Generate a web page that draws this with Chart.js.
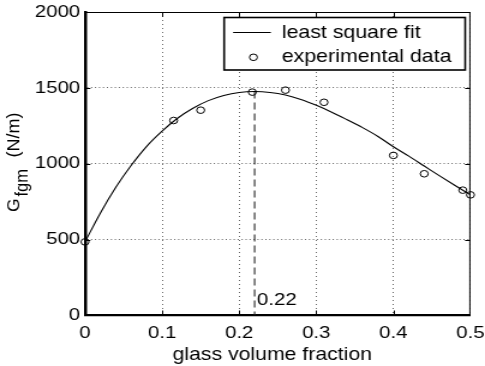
<!DOCTYPE html>
<html lang="en">
<head>
<meta charset="UTF-8">
<title>Fracture energy vs glass volume fraction</title>
<script src="https://cdn.jsdelivr.net/npm/chart.js"></script>
<style>
  html, body { margin: 0; padding: 0; background: #fff; overflow: hidden; }
  /* the figure is drawn narrow and widened, like the original exported plot */
  .wrap { width: 404px; height: 366px; transform: scale(1.2005, 1); transform-origin: 0 0; }
</style>
</head>
<body>
<div class="wrap"><canvas id="chart" width="404" height="366"></canvas></div>
<script>
// measured samples: glass volume fraction and fracture energy G_fgm (N/m)
const expFraction = [0, 0.115, 0.15, 0.217, 0.26, 0.31, 0.40, 0.44, 0.49, 0.50];
const expEnergy   = [485, 1285, 1353, 1472, 1485, 1405, 1055, 934, 826, 795];

// least square fit curve
const fitFraction = [0, 0.02, 0.04, 0.06, 0.08, 0.10, 0.12, 0.14, 0.16, 0.18, 0.20, 0.22, 0.24,
                     0.26, 0.28, 0.30, 0.32, 0.34, 0.36, 0.38, 0.40, 0.42, 0.44, 0.46, 0.48, 0.50];
const fitEnergy   = [485, 676, 845, 990, 1115, 1215, 1300, 1366, 1416, 1450, 1470, 1476, 1470,
                     1453, 1424, 1385, 1340, 1290, 1238, 1180, 1112, 1050, 985, 920, 857, 795];

// optimum marker
const peakFraction = [0.22, 0.22];
const peakEnergy   = [1476, 0];
const peakLabel = '0.22';

const xTicks = [0, 0.1, 0.2, 0.3, 0.4, 0.5];
const yTicks = [0, 500, 1000, 1500, 2000];

const FONT = '"Liberation Sans", Arial, Helvetica, sans-serif';
const pts = (xs, ys) => xs.map((v, i) => ({ x: v, y: ys[i] }));

const decorations = {
  id: 'decorations',
  beforeDatasetsDraw(chart) {
    const { ctx, chartArea: a, scales: { x, y } } = chart;
    ctx.save();
    ctx.strokeStyle = '#000';
    ctx.lineWidth = 1;
    // inward tick marks on every side
    ctx.beginPath();
    xTicks.slice(1, -1).forEach(v => {
      const px = Math.round(x.getPixelForValue(v)) + 0.5;
      ctx.moveTo(px, a.bottom); ctx.lineTo(px, a.bottom - 5);
      ctx.moveTo(px, a.top); ctx.lineTo(px, a.top + 5);
    });
    yTicks.slice(1, -1).forEach(v => {
      const py = Math.round(y.getPixelForValue(v)) + 0.5;
      ctx.moveTo(a.left, py); ctx.lineTo(a.left + 4.5, py);
      ctx.moveTo(a.right, py); ctx.lineTo(a.right - 4.5, py);
    });
    ctx.stroke();
    // thin top and right edges of the box
    ctx.beginPath();
    ctx.moveTo(a.left, a.top + 0.5); ctx.lineTo(a.right, a.top + 0.5);
    ctx.moveTo(a.right - 0.5, a.top); ctx.lineTo(a.right - 0.5, a.bottom);
    ctx.stroke();
    ctx.restore();
  },
  afterDatasetsDraw(chart) {
    const { ctx, scales: { x } } = chart;
    ctx.save();
    ctx.strokeStyle = '#000';

    // legend box
    const bx = 186.7, by = 17.5, bw = 200.8, bh = 52.5;
    ctx.fillStyle = '#fff';
    ctx.fillRect(bx, by, bw, bh);
    ctx.lineWidth = 1.6;
    ctx.strokeRect(bx, by, bw, bh);
    ctx.lineWidth = 1;
    ctx.beginPath();
    ctx.moveTo(194.2, 32.5); ctx.lineTo(225.6, 32.5);
    ctx.stroke();
    ctx.beginPath();
    ctx.arc(211.1, 57.3, 3.3, 0, Math.PI * 2);
    ctx.stroke();
    ctx.fillStyle = '#000';
    ctx.font = '17.8px ' + FONT;
    ctx.textAlign = 'left';
    ctx.textBaseline = 'alphabetic';
    ctx.fillText('least square fit', 234.7, 38.3);
    ctx.fillText('experimental data', 234.7, 62);

    // value of the optimum next to the dashed line
    ctx.font = '17px ' + FONT;
    ctx.fillText(peakLabel, x.getPixelForValue(peakFraction[0]) + 2, 305);

    // x axis title
    ctx.font = '17.7px ' + FONT;
    ctx.textAlign = 'center';
    ctx.fillText('glass volume fraction', 226.8, 360);

    // y axis title with subscript
    ctx.translate(15.8, 212);
    ctx.rotate(-Math.PI / 2);
    ctx.scale(1, 0.85);
    ctx.textAlign = 'left';
    ctx.font = '17.5px ' + FONT;
    ctx.fillText('G', 0, 0);
    ctx.font = '16.5px ' + FONT;
    ctx.fillText('fgm', 15.5, 9);
    ctx.font = '18px ' + FONT;
    ctx.fillText('(N/m)', 54.5, 0);
    ctx.restore();
  }
};

new Chart(document.getElementById('chart'), {
  type: 'line',
  data: {
    datasets: [
      {
        label: 'least square fit',
        data: pts(fitFraction, fitEnergy),
        borderColor: '#000',
        borderWidth: 1.1,
        pointRadius: 0,
        cubicInterpolationMode: 'monotone',
        fill: false
      },
      {
        label: 'experimental data',
        data: pts(expFraction, expEnergy),
        showLine: false,
        pointRadius: 3.3,
        pointBorderWidth: 1,
        pointBorderColor: '#000',
        pointBackgroundColor: 'rgba(0,0,0,0)',
        clip: false
      },
      {
        label: 'optimum',
        data: pts(peakFraction, peakEnergy),
        borderColor: '#222',
        borderWidth: 1.1,
        borderDash: [7, 4],
        pointRadius: 0,
        fill: false
      }
    ]
  },
  options: {
    responsive: false,
    animation: false,
    events: [],
    layout: { padding: { top: 12, right: 12.1, left: 0, bottom: 0 } },
    plugins: { legend: { display: false }, tooltip: { enabled: false } },
    scales: {
      x: {
        type: 'linear',
        min: 0,
        max: 0.5,
        afterBuildTicks: s => { s.ticks = xTicks.map(v => ({ value: v })); },
        afterFit: s => { s.height = 50.5; s.paddingLeft = 0; s.paddingRight = 0; },
        grid: { color: 'rgba(0,0,0,0.6)', lineWidth: 1, drawTicks: false },
        border: { display: true, color: '#000', width: 2.2, dash: [1, 3] },
        ticks: { color: '#000', font: { family: FONT, size: 17 }, padding: 8, maxRotation: 0,
                 callback: v => String(v) }
      },
      y: {
        type: 'linear',
        min: 0,
        max: 2000,
        afterBuildTicks: s => { s.ticks = yTicks.map(v => ({ value: v })); },
        afterFit: s => { s.width = 70.8; s.paddingTop = 0; s.paddingBottom = 0; },
        grid: { color: 'rgba(0,0,0,0.6)', lineWidth: 1, drawTicks: false },
        border: { display: true, color: '#000', width: 2.5, dash: [1, 2.3] },
        ticks: { color: '#000', font: { family: FONT, size: 17 }, padding: 4,
                 callback: v => String(v) }
      }
    }
  },
  plugins: [decorations]
});
</script>
</body>
</html>
